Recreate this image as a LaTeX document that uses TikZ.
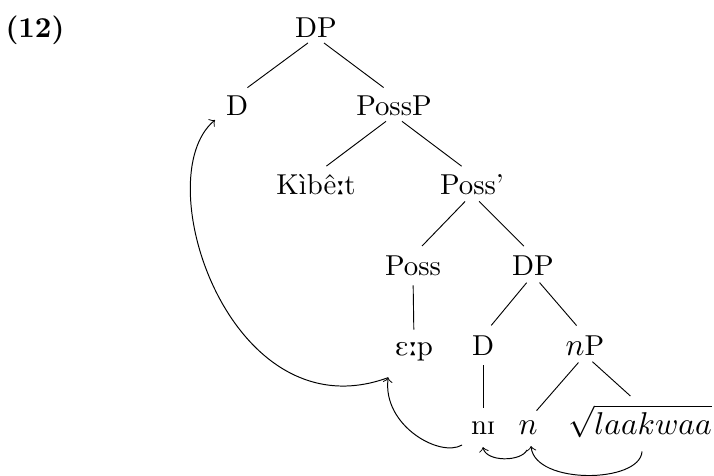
\documentclass[tikz,border=0pt]{standalone}
\usepackage{tipa}
\usetikzlibrary{calc}
% italic (math) labels are set a little larger than the roman ones
\newcommand{\bigmath}[1]{{\fontsize{11.2}{13}\selectfont$#1$}}
\begin{document}
\begin{tikzpicture}[x=0.34722pt,y=0.34722pt,
  lbl/.style={anchor=base, inner sep=0pt, outer sep=0pt, font=\normalsize},
  branch/.style={shorten <=3.47pt, shorten >=4.5pt, line width=0.32pt},
  move/.style={->, line width=0.34pt}]
\useasboundingbox (0,0) rectangle (714,-475);

% example number
\node[lbl] (exnum) at (35,-37) {\textbf{(12)}};

% tree labels, placed on their baselines
\node[lbl] (dp) at (316,-37) {DP};
\node[lbl] (d) at (237,-115) {D};
\node[lbl] (possp) at (394,-115) {PossP};
\node[lbl] (kibet) at (316,-194) {K\`ib\^e\textipa{:}t};
\node[lbl] (possbar) at (472,-194) {Poss\textquoteright};
\node[lbl] (poss) at (413,-275) {Poss};
\node[lbl] (dpb) at (533,-275) {DP};
\node[lbl] (eps) at (414,-355) {\textipa{E:p}};
\node[lbl] (db) at (483,-355) {D};
\node[lbl] (np) at (585,-355) {\bigmath{n}P};
\node[lbl] (ni) at (483,-434) {n\textipa{I}};
\node[lbl] (nn) at (528,-434) {\bigmath{n}};
\node[lbl] (root) at (640,-434) {\bigmath{\sqrt{laakwaa}}};

% branches
\draw[branch] (dp.south) -- (d.north);
\draw[branch] (dp.south) -- (possp.north);
\draw[branch] (possp.south) -- (kibet.north);
\draw[branch] (possp.south) -- (possbar.north);
\draw[branch] (possbar.south) -- (poss.north);
\draw[branch] (possbar.south) -- (dpb.north);
\draw[branch] (poss.south) -- (eps.north);
\draw[branch] (dpb.south) -- (db.north);
\draw[branch] (dpb.south) -- (np.north);
\draw[branch] (db.south) -- (ni.north);
\draw[branch] (np.south) -- (nn.north);
\draw[branch] (np.south) -- (root.north);

% feet of the movement arrows
\coordinate (dfoot) at ($(d.south west)+(-11,-5)$);
\coordinate (epsfoot) at ($(eps.south west)+(-7,-17)$);
\coordinate (nileft) at ($(ni.south)+(-21,-11)$);
\coordinate (nitip) at ($(ni.south)+(0,-13)$);
\coordinate (nnstart) at ($(nn.south)+(-1,-16)$);
\coordinate (nntip) at ($(nn.south)+(3,-12)$);
\coordinate (rootfoot) at ($(root.south)+(2,-14)$);

% head movement
\draw[move] (rootfoot) .. controls +(-2,-32) and +(4,-39) .. (nntip);
\draw[move] (nnstart) .. controls +(-6,-12) and +(3,-15) .. (nitip);
\draw[move] (nileft) .. controls +(-22,-13) and +(-6,-48) .. (epsfoot);
\draw[move] (epsfoot) .. controls +(-158,-58) and +(-69,-58) .. (dfoot);
\end{tikzpicture}
\end{document}
